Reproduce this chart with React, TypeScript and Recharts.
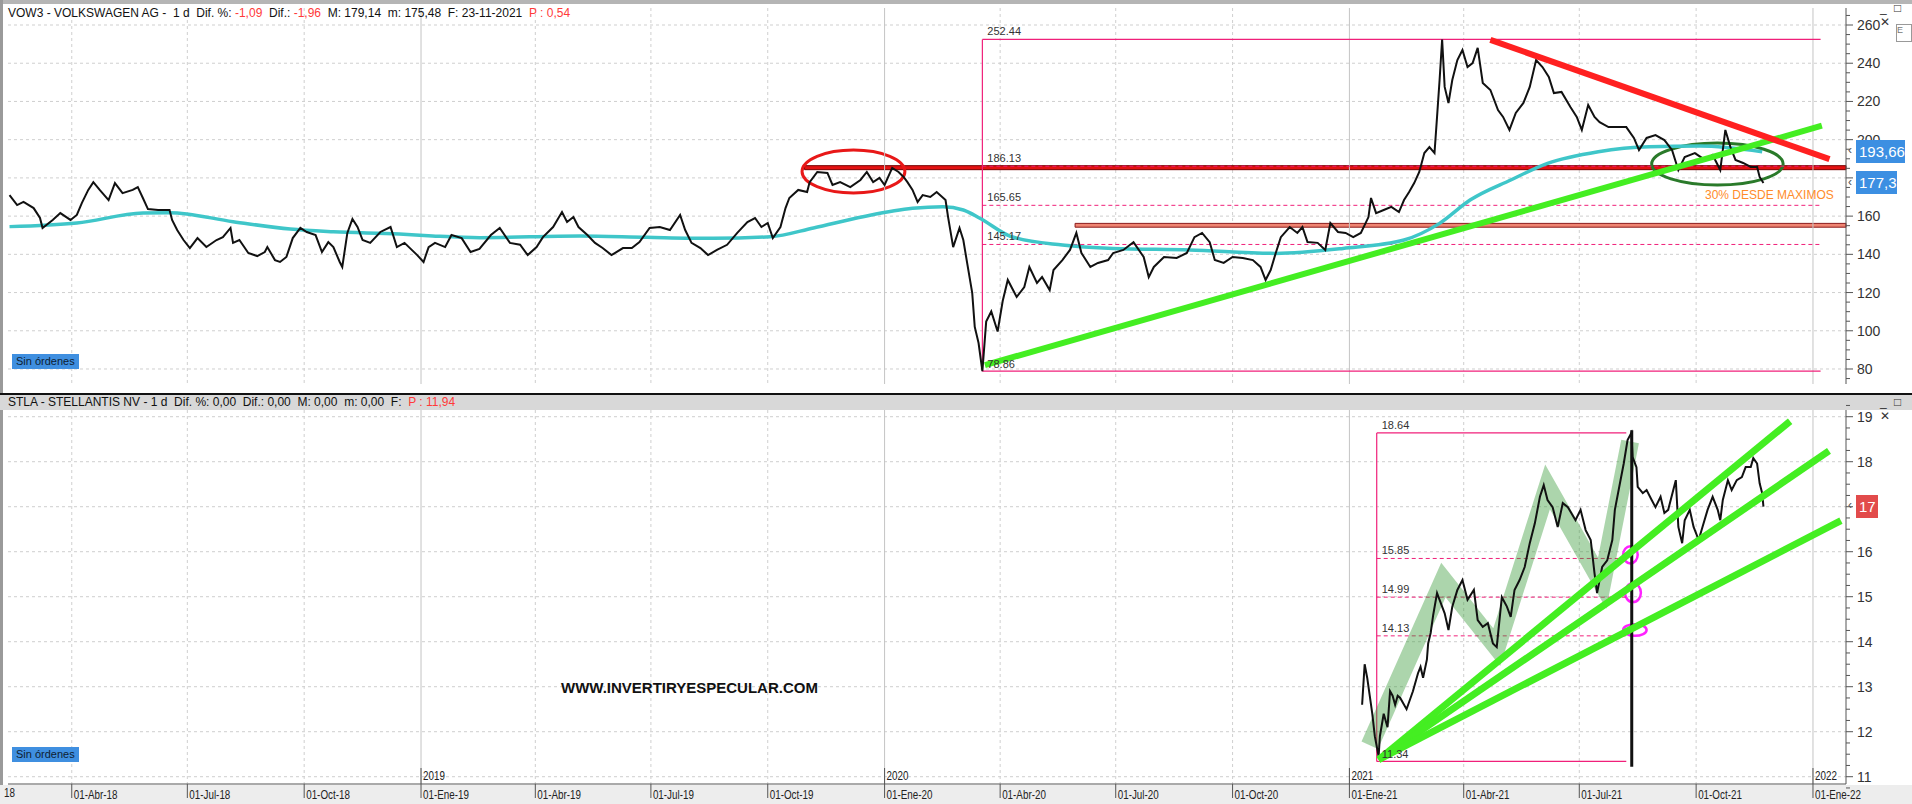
import React from 'react'
import {
  ComposedChart,
  Line,
  XAxis,
  YAxis,
  CartesianGrid,
  ReferenceLine,
  ReferenceArea,
  ReferenceDot,
} from 'recharts'

// x values are days counted from 1 Jan 2018
const quarterDays = [90, 181, 273, 365, 455, 546, 638, 730, 821, 912, 1004, 1096, 1186, 1277, 1369, 1461]
const quarterLabels = [
  '01-Abr-18', '01-Jul-18', '01-Oct-18', '01-Ene-19', '01-Abr-19', '01-Jul-19', '01-Oct-19', '01-Ene-20',
  '01-Abr-20', '01-Jul-20', '01-Oct-20', '01-Ene-21', '01-Abr-21', '01-Jul-21', '01-Oct-21', '01-Ene-22',
]

const vowTicks = [80, 100, 120, 140, 160, 180, 200, 220, 240, 260]
const stlaTicks = [11, 12, 13, 14, 15, 16, 17, 18, 19]

const vowDays = [
  41, 47, 52, 60, 65, 67, 75, 81, 89, 94,
  98, 103, 107, 112, 119, 124, 130, 138, 142, 146,
  150, 158, 167, 169, 173, 178, 183, 189, 196, 204,
  209, 215, 217, 222, 229, 236, 242, 244, 250, 254,
  259, 264, 270, 275, 282, 287, 292, 296, 301, 303,
  307, 311, 315, 319, 325, 333, 341, 346, 352, 362,
  367, 371, 376, 384, 389, 397, 404, 411, 420, 427,
  435, 443, 449, 456, 461, 469, 476, 480, 485, 489,
  496, 502, 508, 515, 524, 531, 537, 545, 553, 561,
  569, 573, 578, 585, 591, 598, 606, 614, 622, 628,
  633, 638, 642, 648, 652, 655, 662, 669, 671, 677,
  685, 689, 695, 703, 711, 716, 721, 726, 730, 736,
  741, 745, 748, 752, 756, 760, 766, 771, 778, 780,
  784, 789, 792, 795, 799, 801, 804, 807, 810, 814,
  819, 823, 827, 834, 840, 844, 850, 854, 860, 863,
  870, 876, 881, 885, 892, 898, 906, 910, 918, 926,
  934, 938, 942, 950, 960, 968, 974, 980, 986, 990,
  997, 1004, 1012, 1020, 1026, 1030, 1034, 1038, 1042, 1049,
  1055, 1059, 1063, 1071, 1077, 1081, 1087, 1093, 1099, 1105,
  1111, 1113, 1117, 1123, 1129, 1135, 1139, 1143, 1147, 1151,
  1155, 1159, 1163, 1165, 1167, 1169, 1171, 1174, 1177, 1181,
  1185, 1189, 1193, 1197, 1201, 1207, 1213, 1217, 1222, 1227,
  1233, 1238, 1243, 1248, 1253, 1257, 1263, 1270, 1275, 1279,
  1284, 1289, 1293, 1300, 1307, 1314, 1320, 1324, 1330, 1337,
  1344, 1350, 1355, 1360, 1368, 1376, 1382, 1388, 1392, 1396,
  1400, 1406, 1412, 1417, 1419, 1422,
]
const vowClose = [
  171.0, 165.8, 167.4, 164.2, 159.0, 153.8, 158.0, 161.6, 158.0, 160.6,
  166.9, 173.7, 177.8, 173.7, 168.4, 177.3, 172.0, 173.7, 175.2, 169.5,
  163.7, 163.2, 163.2, 158.0, 152.7, 147.5, 143.3, 148.5, 143.8, 147.5,
  149.0, 153.8, 146.0, 147.5, 140.7, 139.1, 141.2, 143.8, 137.0, 136.0,
  138.6, 148.5, 153.8, 151.7, 150.1, 141.2, 146.4, 143.8, 136.0, 133.4,
  151.2, 158.5, 154.3, 147.5, 146.0, 151.7, 154.3, 143.8, 146.0, 139.6,
  136.0, 143.8, 146.0, 143.8, 150.1, 148.5, 141.2, 142.8, 150.1, 153.8,
  146.0, 145.0, 139.6, 143.8, 149.0, 154.3, 162.1, 156.9, 159.5, 154.3,
  150.1, 146.0, 143.3, 139.6, 143.3, 143.3, 146.4, 153.8, 154.3, 152.7,
  160.6, 152.7, 146.0, 143.3, 139.6, 142.3, 145.0, 151.2, 156.9, 159.0,
  154.3, 156.4, 148.5, 154.3, 164.2, 169.5, 173.7, 172.6, 177.8, 183.1,
  182.6, 176.3, 177.8, 175.2, 178.9, 183.1, 177.8, 180.0, 176.3, 185.2,
  183.1, 180.5, 177.8, 173.7, 167.4, 171.0, 170.0, 172.6, 168.4, 159.5,
  143.8, 153.8, 147.5, 135.5, 119.8, 102.0, 93.6, 78.9, 104.8, 110.1,
  99.6, 115.6, 126.6, 117.7, 122.9, 133.4, 125.0, 128.1, 121.3, 131.8,
  137.0, 142.3, 151.2, 140.7, 133.4, 135.5, 137.0, 140.7, 142.3, 146.4,
  138.6, 128.1, 133.4, 138.6, 138.1, 140.7, 149.0, 151.2, 146.4, 137.0,
  135.5, 138.6, 138.1, 137.0, 133.4, 126.6, 131.8, 140.7, 149.0, 154.3,
  151.2, 154.3, 146.4, 146.0, 142.3, 156.4, 151.7, 151.2, 149.0, 151.2,
  159.5, 169.5, 161.6, 163.2, 164.8, 162.1, 168.4, 172.6, 177.3, 183.1,
  193.0, 196.1, 193.0, 211.9, 231.2, 252.4, 227.6, 219.2, 231.2, 241.7,
  246.9, 238.0, 240.1, 248.0, 229.7, 226.0, 215.5, 211.9, 205.1, 214.0,
  219.2, 227.6, 241.7, 238.0, 232.8, 224.4, 225.0, 217.1, 211.9, 205.1,
  218.1, 211.9, 209.2, 206.6, 206.6, 206.6, 200.9, 194.6, 200.9, 202.4,
  199.8, 194.6, 184.1, 190.9, 193.0, 189.4, 192.0, 184.1, 205.1, 196.1,
  189.4, 187.8, 185.7, 185.7, 180.5, 177.3,
]

// moving average (cyan)
const maDays = [41, 94, 146, 167, 217, 262, 296, 348, 374, 411, 490, 543, 595, 640, 674, 713, 752, 776, 792, 805,
  830, 870, 910, 970, 1038, 1091, 1139, 1167, 1191, 1223, 1252, 1292, 1332, 1372, 1421]
const maValues = [154.5, 156.4, 161.6, 161.8, 157.1, 153.2, 151.8, 150.6, 149.6, 148.7, 149.6, 148.9, 148.4, 149.2,
  153.8, 159.7, 164.1, 164.9, 163.2, 158.9, 149.2, 144.9, 143.1, 142.3, 140.5, 143.1, 147.5, 156.2, 168.4, 178.9,
  187.6, 193.7, 196.3, 196.7, 193.7]

const stlaDays = [
  1106, 1108, 1110, 1112, 1114, 1116, 1119, 1120, 1123, 1126,
  1128, 1130, 1132, 1134, 1136, 1141, 1146, 1150, 1152, 1154,
  1157, 1158, 1160, 1162, 1165, 1167, 1171, 1174, 1177, 1181,
  1185, 1189, 1194, 1197, 1201, 1205, 1209, 1212, 1216, 1220,
  1223, 1226, 1230, 1234, 1238, 1242, 1246, 1249, 1252, 1256,
  1260, 1264, 1268, 1274, 1278, 1282, 1286, 1289, 1291, 1295,
  1299, 1303, 1305, 1309, 1312, 1315, 1318, 1319, 1322, 1323,
  1327, 1330, 1334, 1337, 1341, 1344, 1347, 1351, 1353, 1355,
  1358, 1360, 1364, 1367, 1371, 1374, 1378, 1382, 1386, 1388,
  1390, 1394, 1397, 1401, 1405, 1408, 1412, 1414, 1417, 1419,
  1421, 1422,
]
const stlaClose = [
  12.6, 13.5, 13.2, 12.8, 12.4, 11.9, 11.45, 11.9, 12.4, 12.1,
  12.9, 12.8, 12.6, 12.8, 12.75, 12.5, 12.9, 13.3, 13.44, 13.2,
  13.6, 13.96, 14.2, 14.6, 15.08, 14.93, 14.63, 14.26, 14.78, 15.15,
  15.37, 14.93, 15.15, 14.48, 14.33, 14.41, 13.96, 13.88, 14.99, 14.78,
  14.55, 15.15, 15.37, 15.66, 16.19, 16.63, 17.22, 17.48, 17.15, 16.99,
  16.55, 17.08, 16.99, 16.7, 16.93, 16.48, 16.26, 15.52, 15.08, 15.66,
  15.81, 16.26, 16.93, 17.52, 17.96, 18.48, 18.64, 18.1, 17.88, 17.44,
  17.3, 17.37, 17.15, 16.99, 17.22, 16.86, 16.93, 17.37, 17.59, 16.55,
  16.19, 16.7, 16.93, 16.55, 16.26, 16.55, 16.93, 17.22, 16.93, 16.7,
  17.15, 17.59, 17.37, 17.59, 17.66, 17.88, 17.88, 18.08, 17.96, 17.52,
  17.3, 17.0,
]

// hand drawn zigzag swings on STLA
const swingDays = [1112, 1170, 1212, 1252, 1295, 1317]
const swingValues = [11.7, 15.37, 13.88, 17.44, 15.3, 18.45]

const vowFib = { start: 807, end: 1467, high: 252.44, low: 78.86, levels: [186.13, 165.65, 145.17] }
const stlaFib = { start: 1117.5, end: 1314, high: 18.64, low: 11.34, levels: [15.85, 14.99, 14.13] }

const X_DOMAIN: [number, number] = [39.8, 1487]
const FONT = '"Liberation Sans", Arial, sans-serif'
const PINK = '#f0207a'
const GREEN = '#44ee22'

const toSeries = (days: number[], vals: number[]) => days.map((t, i) => ({ t, v: vals[i] }))
const vowData = toSeries(vowDays, vowClose)
const maData = toSeries(maDays, maValues)
const stlaData = toSeries(stlaDays, stlaClose)
const swingData = toSeries(swingDays, swingValues)

const withMinor = (majors: number[], parts: number) => {
  const step = (majors[1] - majors[0]) / parts
  const out: number[] = []
  for (let v = majors[0] - step; v <= majors[majors.length - 1] + step + 1e-9; v += step) out.push(+v.toFixed(4))
  return out
}

const priceTick = (majors: number[]) => (props: any) => {
  const { x, y, payload } = props
  const isMajor = majors.some((m) => Math.abs(m - payload.value) < 1e-6)
  return (
    <g>
      <line x1={x} y1={y} x2={x + (isMajor ? 7 : 4)} y2={y} stroke="#555" />
      {isMajor && (
        <text x={x + 11} y={y + 5} fontSize={14} fill="#333" fontFamily={FONT}>
          {payload.value}
        </text>
      )}
    </g>
  )
}

const DateTick = (props: any) => {
  const { x, y, payload } = props
  const label = quarterLabels[quarterDays.indexOf(payload.value)] || ''
  const isYear = label.indexOf('Ene') >= 0
  return (
    <g>
      <line x1={x} y1={y} x2={x} y2={y + 14} stroke="#555" />
      <text transform={`translate(${x + 2},${y + 15}) scale(0.82,1)`} fontSize={12} fill="#222" fontFamily={FONT}>
        {label}
      </text>
      {isYear && (
        <>
          <line x1={x} y1={y - 16} x2={x} y2={y} stroke="#555" />
          <text transform={`translate(${x + 2},${y - 4}) scale(0.82,1)`} fontSize={12} fill="#222" fontFamily={FONT}>
            {'20' + label.slice(-2)}
          </text>
        </>
      )}
    </g>
  )
}

const ellipse = (stroke: string, width: number) => (p: any) => (
  <ellipse
    cx={p.x + p.width / 2}
    cy={p.y + p.height / 2}
    rx={Math.abs(p.width) / 2}
    ry={Math.abs(p.height) / 2}
    fill="none"
    stroke={stroke}
    strokeWidth={width}
  />
)

const textAt = (key: string, t: number, v: number, label: string, color = '#333', size = 11, dx = 5, dy = -4) => (
  <ReferenceDot
    key={key}
    x={t}
    y={v}
    r={0}
    ifOverflow="visible"
    shape={(p: any) => (
      <text x={p.cx + dx} y={p.cy + dy} fontSize={size} fill={color} fontFamily={FONT}>
        {label}
      </text>
    )}
  />
)

const seg = (key: string, x1: number, y1: number, x2: number, y2: number, stroke: string, width: number, dash?: string) => (
  <ReferenceLine
    key={key}
    segment={[{ x: x1, y: y1 }, { x: x2, y: y2 }]}
    stroke={stroke}
    strokeWidth={width}
    strokeDasharray={dash}
    ifOverflow="visible"
  />
)

const yearDays = quarterDays.filter((_, i) => quarterLabels[i].indexOf('Ene') >= 0)
const otherDays = quarterDays.filter((_, i) => quarterLabels[i].indexOf('Ene') < 0)

const gridParts = (hValues: number[]) => [
  <CartesianGrid key="grid" stroke="#cfcfcf" strokeDasharray="3 3" horizontalValues={hValues} verticalValues={otherDays} />,
  ...yearDays.map((d) => <ReferenceLine key={'y' + d} x={d} stroke="#c4c4c4" ifOverflow="visible" />),
]

const fibParts = (f: typeof vowFib, pre: string) => [
  seg(pre + 'top', f.start, f.high, f.end, f.high, PINK, 1.2),
  seg(pre + 'bot', f.start, f.low, f.end, f.low, PINK, 1.2),
  seg(pre + 'left', f.start, f.low, f.start, f.high, PINK, 1.2),
  ...f.levels.map((l) => seg(pre + l, f.start, l, f.end, l, PINK, 1, '4 3')),
  textAt(pre + 'th', f.start, f.high, f.high.toFixed(2)),
  textAt(pre + 'tl', f.start, f.low, f.low.toFixed(2), '#333', 11, 5, -3),
  ...f.levels.map((l) => textAt(pre + 't' + l, f.start, l, l.toFixed(2))),
]

const VowChart = () => (
  <ComposedChart width={1912} height={392} margin={{ top: 8, right: 0, bottom: 8, left: 8 }} style={{ fontFamily: FONT }}>
    {gridParts(vowTicks)}
    <XAxis type="number" dataKey="t" domain={X_DOMAIN} hide allowDataOverflow />
    <YAxis
      type="number"
      orientation="right"
      width={66}
      domain={[72.15, 268.9]}
      allowDataOverflow
      ticks={withMinor(vowTicks, 4)}
      interval={0}
      tick={priceTick(vowTicks)}
      tickSize={0}
      tickMargin={0}
      tickLine={false}
      axisLine={{ stroke: '#555' }}
    />
    {fibParts(vowFib, 'v')}
    <ReferenceArea x1={880} x2={1487} y1={154.2} y2={156.2} fill="#ef8472" fillOpacity={1} stroke="#8b1a1a" strokeWidth={1} ifOverflow="visible" />
    <ReferenceArea x1={667} x2={1487} y1={184.3} y2={186.4} fill="#e31212" fillOpacity={1} stroke="#7a0000" strokeWidth={1} ifOverflow="visible" />
    <Line data={maData} dataKey="v" type="monotone" stroke="#3fc6c9" strokeWidth={3.5} dot={false} isAnimationActive={false} />
    <Line data={vowData} dataKey="v" type="linear" stroke="#111" strokeWidth={2} dot={false} isAnimationActive={false} />
    {seg('vg', 809, 82, 1468, 207.3, GREEN, 6)}
    {seg('vr', 1207, 252.2, 1474, 189.8, '#ff2020', 6)}
    <ReferenceArea x1={665} x2={746} y1={172.1} y2={194.6} ifOverflow="visible" shape={ellipse('#e81818', 3)} />
    <ReferenceArea x1={1334} x2={1437.5} y1={176.3} y2={198.2} ifOverflow="visible" shape={ellipse('#2a7a2a', 3)} />
    {textAt('max', 1376, 169, '30% DESDE MAXIMOS', '#ff8c2a', 12, 0, 0)}
  </ComposedChart>
)

const StlaChart = () => (
  <ComposedChart width={1912} height={412} margin={{ top: 18, right: 0, bottom: 0, left: 8 }} style={{ fontFamily: FONT }}>
    {gridParts(stlaTicks)}
    <XAxis
      type="number"
      dataKey="t"
      domain={X_DOMAIN}
      allowDataOverflow
      ticks={quarterDays}
      interval={0}
      tick={DateTick}
      tickSize={0}
      tickMargin={0}
      tickLine={false}
      height={20}
      axisLine={{ stroke: '#555' }}
    />
    <YAxis
      type="number"
      orientation="right"
      width={66}
      domain={[10.838, 19.149]}
      allowDataOverflow
      ticks={withMinor(stlaTicks, 4)}
      interval={0}
      tick={priceTick(stlaTicks)}
      tickSize={0}
      tickMargin={0}
      tickLine={false}
      axisLine={{ stroke: '#555' }}
    />
    {fibParts(stlaFib, 's')}
    <Line data={swingData} dataKey="v" type="linear" stroke="#3a9a3a" strokeOpacity={0.42} strokeWidth={18} dot={false} isAnimationActive={false} />
    <Line data={stlaData} dataKey="v" type="linear" stroke="#111" strokeWidth={2} dot={false} isAnimationActive={false} />
    {seg('spike', 1318.3, 11.22, 1318.3, 18.7, '#111', 3)}
    {seg('fa', 1119, 11.38, 1443, 18.9, GREEN, 7)}
    {seg('fb', 1119, 11.38, 1473.6, 18.24, GREEN, 7)}
    {seg('fc', 1119, 11.38, 1483, 16.69, GREEN, 7)}
    <ReferenceArea x1={1311.5} x2={1323} y1={15.74} y2={16.12} ifOverflow="visible" shape={ellipse('#ff22ff', 2.5)} />
    <ReferenceArea x1={1313} x2={1325.5} y1={14.88} y2={15.3} ifOverflow="visible" shape={ellipse('#ff22ff', 2.5)} />
    <ReferenceArea x1={1311.5} x2={1330} y1={14.13} y2={14.39} ifOverflow="visible" shape={ellipse('#ff22ff', 2.5)} />
  </ComposedChart>
)

const red = { color: '#ff3a3a' }
const abs = (s: React.CSSProperties): React.CSSProperties => ({ position: 'absolute', ...s })

const Tag = ({ top, left, width, bg, text }: any) => (
  <div style={abs({ top, left, width, height: 23, background: bg, color: '#fff', fontSize: 15, lineHeight: '23px', paddingLeft: 3, fontFamily: FONT })}>
    {text}
  </div>
)

const Sin = ({ top }: any) => (
  <div style={abs({ top, left: 12, height: 15, background: '#3f8fe0', color: '#0e1e33', fontSize: 11, lineHeight: '15px', padding: '0 4px', whiteSpace: 'nowrap', fontFamily: FONT })}>
    Sin órdenes
  </div>
)

export default function App() {
  return (
    <div style={abs({ left: 0, top: 0, width: 1912, height: 804, background: '#fff', overflow: 'hidden', fontFamily: FONT })}>
      <div style={abs({ left: 0, top: 0, width: 1912, height: 4, background: '#b5b5b5' })} />
      <div style={abs({ left: 0, top: 0, width: 3, height: 804, background: '#9a9a9a' })} />
      <div style={abs({ left: 0, top: 393, width: 1912, height: 2, background: '#111' })} />
      <div style={abs({ left: 0, top: 395, width: 1912, height: 15, background: '#d8d8d8' })} />
      <div style={abs({ left: 0, top: 785, width: 1912, height: 19, background: '#ededed' })} />

      <div style={abs({ left: 0, top: 0 })}>
        <VowChart />
      </div>
      <div style={abs({ left: 0, top: 392 })}>
        <StlaChart />
      </div>

      <div style={abs({ left: 8, top: 6, fontSize: 12, whiteSpace: 'pre', color: '#111' })}>
        {'VOW3 - VOLKSWAGEN AG -  1 d  Dif. %: '}
        <span style={red}>-1,09</span>
        {'  Dif.: '}
        <span style={red}>-1,96</span>
        {'  M: 179,14  m: 175,48  F: 23-11-2021  '}
        <span style={red}>P : 0,54</span>
      </div>
      <div style={abs({ left: 8, top: 395, fontSize: 12, whiteSpace: 'pre', color: '#111' })}>
        {'STLA - STELLANTIS NV - 1 d  Dif. %: 0,00  Dif.: 0,00  M: 0,00  m: 0,00  F:  '}
        <span style={red}>P : 11,94</span>
      </div>

      <div style={abs({ left: 1880, top: 1, fontSize: 12, lineHeight: '14px', color: '#333', letterSpacing: 2 })}>_ □ ✕</div>
      <div style={abs({ left: 1880, top: 395, fontSize: 12, lineHeight: '14px', color: '#333', letterSpacing: 2 })}>_ □ ✕</div>
      <div style={abs({ left: 1896, top: 24, width: 14, height: 16, border: '1px solid #999', fontSize: 9, color: '#777', overflow: 'hidden' })}>E</div>

      <div style={abs({ left: 1848, top: 143, fontSize: 12, color: '#555' })}>‹</div>
      <div style={abs({ left: 1848, top: 175, fontSize: 12, color: '#555' })}>‹</div>
      <div style={abs({ left: 1848, top: 498, fontSize: 12, color: '#555' })}>‹</div>
      <Tag top={140} left={1856} width={46} bg="#3c8fe2" text="193,66" />
      <Tag top={171} left={1856} width={38} bg="#3c8fe2" text="177,3" />
      <Tag top={495} left={1856} width={19} bg="#e24b4b" text="17" />

      <Sin top={354} />
      <Sin top={747} />

      <div style={abs({ left: 561, top: 679, fontSize: 15, fontWeight: 'bold', color: '#111' })}>WWW.INVERTIRYESPECULAR.COM</div>
      <div style={abs({ left: 4, top: 786, fontSize: 12, color: '#222', transform: 'scaleX(0.82)', transformOrigin: 'left' })}>18</div>
    </div>
  )
}
